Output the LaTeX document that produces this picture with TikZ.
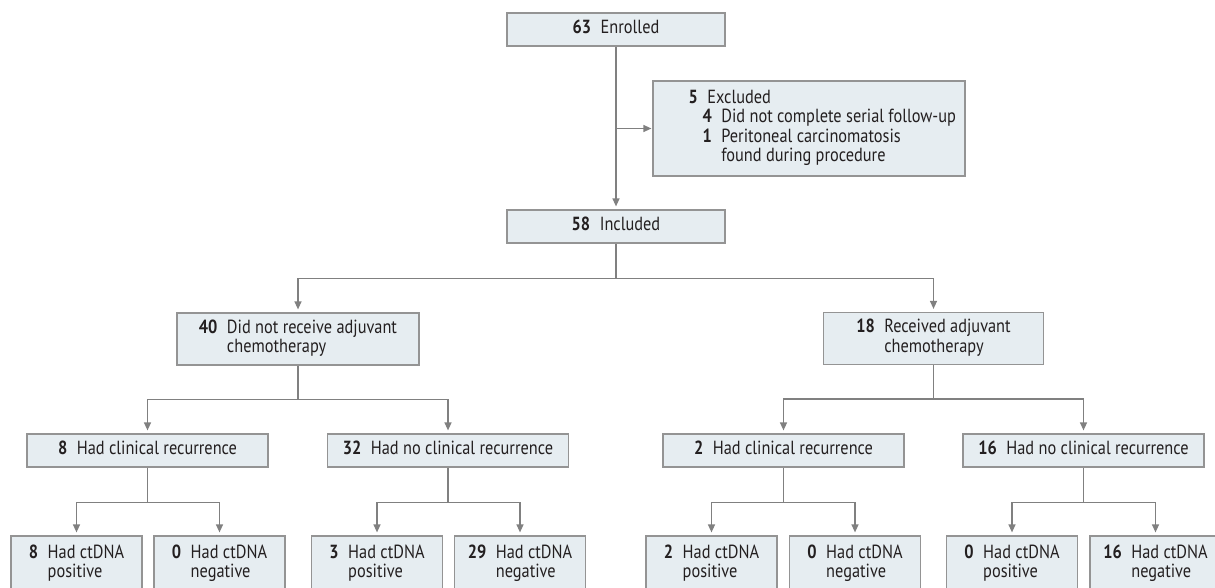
\documentclass[tikz,border=0pt]{standalone}
\usepackage{fontspec}
\setmainfont{PT Sans}[FakeStretch=0.86]
\usetikzlibrary{arrows.meta}

\definecolor{boxfill}{HTML}{E6EDF1}
\definecolor{boxline}{HTML}{949494}
\definecolor{linec}{HTML}{808080}
\definecolor{inkc}{HTML}{231F20}

\newcommand{\flowfont}{\fontsize{19}{19.5}\selectfont}
\newcommand{\cnt}[2]{\textbf{#1}\enspace\begin{tabular}[t]{@{}l@{}}#2\end{tabular}}

\begin{document}
\begin{tikzpicture}[x=1pt, y=-1pt,
    box/.style={draw=boxline, fill=boxfill, line width=1.2pt, inner sep=0pt, text=inkc, font=\flowfont},
    flat/.style={box, minimum width=241pt, minimum height=33pt},
    tall/.style={box, minimum height=52pt},
    leaf/.style={box, minimum width=131pt, minimum height=56pt},
    conn/.style={draw=linec, line width=1.3pt},
    arr/.style={conn, -{Triangle[width=7pt,length=8pt]}, shorten >=3pt}]
    \useasboundingbox (0,0) rectangle (1215,588);

    \node[flat, minimum width=218pt] (enr) at (616,29.5) {\cnt{63}{Enrolled}};
    \node[box, minimum width=312pt, minimum height=95pt] (excl) at (809,128.5) {};
    \node[anchor=west, inner sep=0pt, text=inkc, font=\flowfont] (excltext) at ([xshift=36pt]excl.west)
        {\begin{tabular}{@{\hspace*{14pt}}r@{\enspace}l@{}}
            \multicolumn{2}{@{}l@{}}{\textbf{5}\enspace Excluded}\\
            \textbf{4} & Did not complete serial follow-up\\
            \textbf{1} & Peritoneal carcinomatosis\\
                       & found during procedure
         \end{tabular}};
    \node[flat, minimum width=218pt] (incl) at (616,226.5) {\cnt{58}{Included}};

    \node[tall, minimum width=242pt] (no) at (298,339) {\cnt{40}{Did not receive adjuvant\\chemotherapy}};
    \node[tall, minimum width=220pt] (yes) at (933.5,338.5) {\cnt{18}{Received adjuvant\\chemotherapy}};

    \node[flat] (norec) at (147.5,450.5) {\cnt{8}{Had clinical recurrence}};
    \node[flat] (nonorec) at (448,450.5) {\cnt{32}{Had no clinical recurrence}};
    \node[flat] (yesrec) at (783.5,450.5) {\cnt{2}{Had clinical recurrence}};
    \node[flat] (yesnorec) at (1083.5,450.5) {\cnt{16}{Had no clinical recurrence}};

    \node[leaf] (a1) at (76.5,564) {\cnt{8}{Had ctDNA\\positive}};
    \node[leaf] (a2) at (219.5,564) {\cnt{0}{Had ctDNA\\negative}};
    \node[leaf] (b1) at (377,564) {\cnt{3}{Had ctDNA\\positive}};
    \node[leaf] (b2) at (520,564) {\cnt{29}{Had ctDNA\\negative}};
    \node[leaf] (c1) at (711.5,564) {\cnt{2}{Had ctDNA\\positive}};
    \node[leaf] (c2) at (855,564) {\cnt{0}{Had ctDNA\\negative}};
    \node[leaf] (d1) at (1012,564) {\cnt{0}{Had ctDNA\\positive}};
    \node[leaf] (d2) at (1155.5,564) {\cnt{16}{Had ctDNA\\negative}};

    % enrolment
    \draw[arr] (enr) -- (incl);
    \draw[arr, shorten >=1pt] (enr.south |- excl.west) -- (excl.west);

    % adjuvant split
    \draw[conn] (incl.south) -- ++(0,35) coordinate (split0);
    \draw[arr] (split0) -| (no.north);
    \draw[arr] (split0) -| (yes.north);

    % recurrence split
    \draw[conn] (no.south) -- ++(0,34) coordinate (split1);
    \draw[arr] (split1) -| (norec.north);
    \draw[arr] (split1) -| (nonorec.north);
    \draw[conn] (yes.south) -- ++(0,34) coordinate (split2);
    \draw[arr] (split2) -| (yesrec.north);
    \draw[arr] (split2) -| (yesnorec.north);

    % ctDNA split
    \draw[conn] (norec.south) -- ++(0,35) coordinate (split3);
    \draw[arr] (split3) -| (a1.north);
    \draw[arr] (split3) -| (a2.north);
    \draw[conn] (nonorec.south) -- ++(0,35) coordinate (split4);
    \draw[arr] (split4) -| (b1.north);
    \draw[arr] (split4) -| (b2.north);
    \draw[conn] (yesrec.south) -- ++(0,35) coordinate (split5);
    \draw[arr] (split5) -| (c1.north);
    \draw[arr] (split5) -| (c2.north);
    \draw[conn] (yesnorec.south) -- ++(0,35) coordinate (split6);
    \draw[arr] (split6) -| (d1.north);
    \draw[arr] (split6) -| (d2.north);
\end{tikzpicture}
\end{document}
